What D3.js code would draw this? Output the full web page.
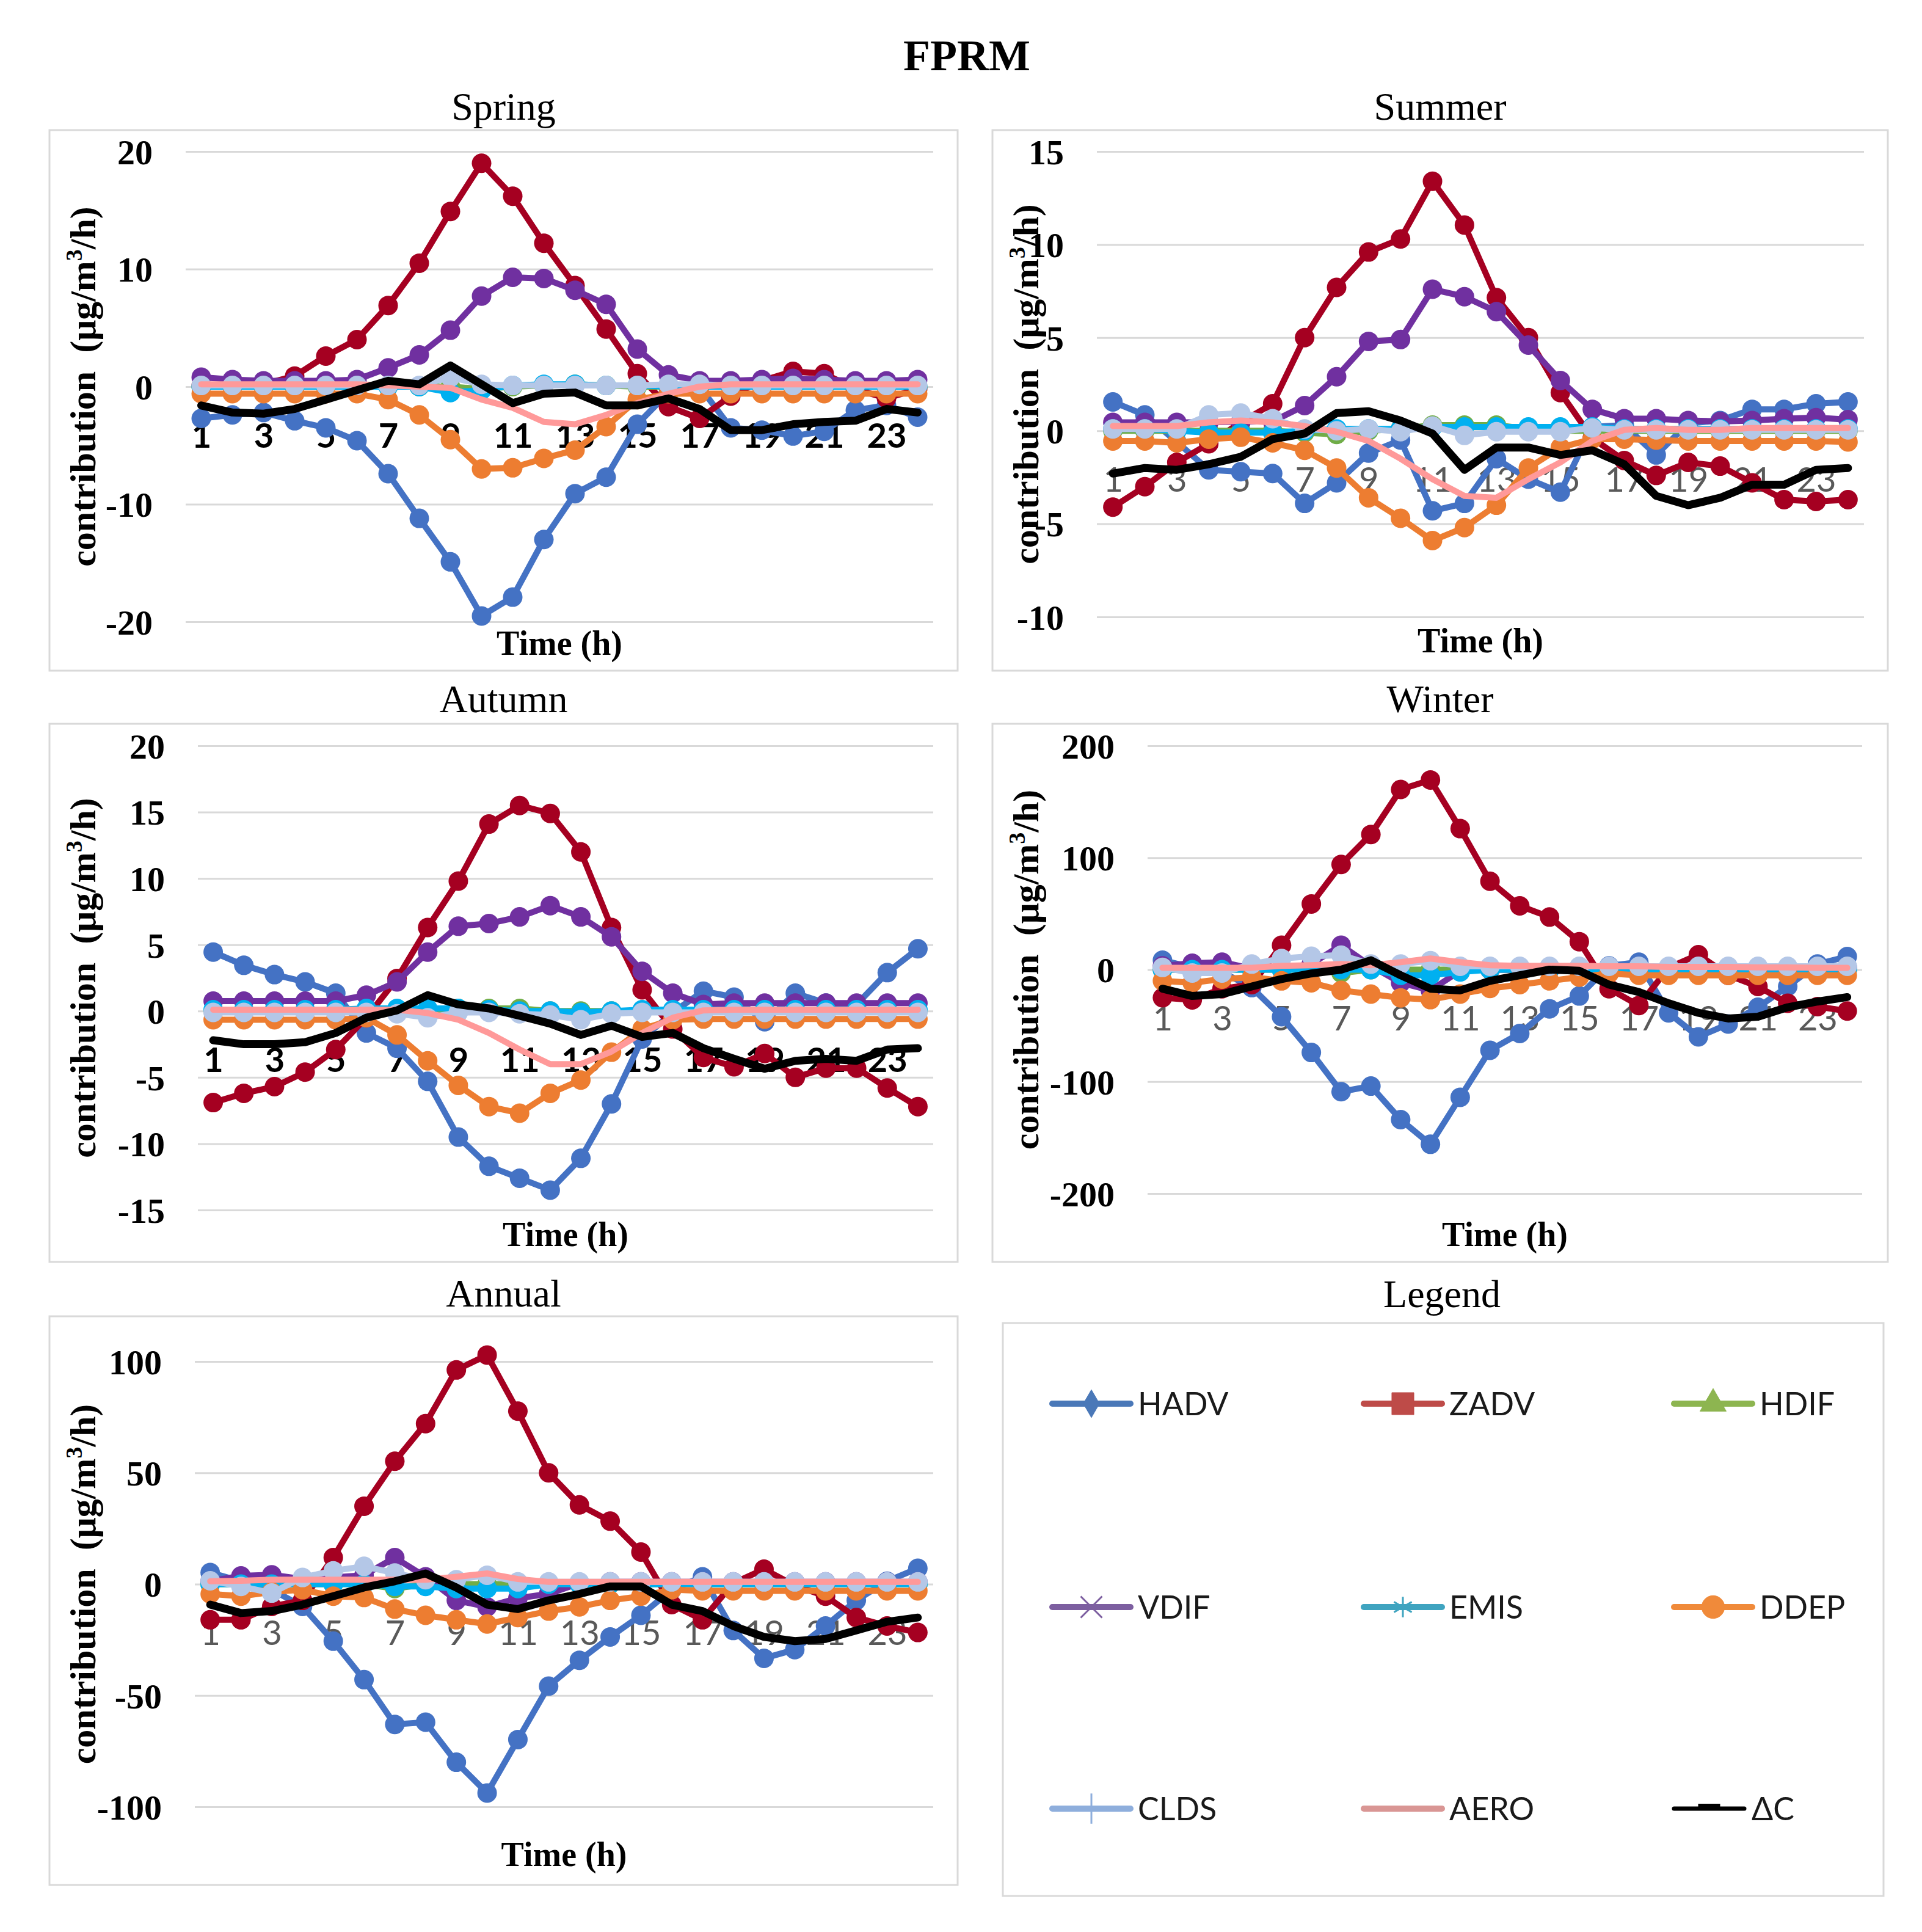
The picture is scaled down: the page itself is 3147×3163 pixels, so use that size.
<!DOCTYPE html>
<html>
<head>
<meta charset="utf-8">
<script src="https://cdn.jsdelivr.net/npm/d3@7"></script>
<style>
  body { margin: 0; background: #fff; }
  svg { display: block; }
</style>
</head>
<body>
<div id="chart"></div>
<script>
// hours on the category axis
const hours = d3.range(1, 25);
const hourLabels = hours.filter((h) => h % 2 === 1);

const seriesNames = ["HADV", "ZADV", "HDIF", "VDIF", "EMIS", "DDEP", "CLDS", "AERO", "ΔC"];

// Spring
const springHADV = [-2.7, -2.4, -2.2, -2.9, -3.5, -4.6, -7.4, -11.2, -14.9, -19.5, -17.9, -13, -9.1, -7.7, -3.2, -0.5, 0, -3.5, -3.7, -4.2, -3.8, -2.0, -1.6, -2.6];
const springZADV = [0.1, 0.1, 0.2, 0.9, 2.6, 4.0, 6.9, 10.5, 14.9, 19.0, 16.2, 12.2, 8.6, 4.9, 1.1, -1.7, -2.7, -0.8, 0.5, 1.3, 1.1, -0.2, -1.0, -0.2];
const springHDIF = [0, 0, 0, 0, 0, 0, 0, 0, 0, -0.2, 0, 0.1, 0.2, 0.1, 0, 0, 0, 0, 0, 0, 0, 0, 0, 0];
const springVDIF = [0.8, 0.6, 0.5, 0.5, 0.5, 0.6, 1.6, 2.7, 4.8, 7.7, 9.3, 9.2, 8.2, 7.0, 3.2, 1.0, 0.5, 0.5, 0.6, 0.7, 0.6, 0.5, 0.5, 0.6];
const springEMIS = [0, 0, 0, 0, 0, 0, 0, 0, -0.5, -0.3, 0.1, 0.2, 0.2, 0.1, 0.1, 0, 0, 0, 0, 0, 0, 0, 0, 0];
const springDDEP = [-0.6, -0.6, -0.6, -0.6, -0.6, -0.6, -1.1, -2.4, -4.5, -7.0, -6.9, -6.1, -5.4, -3.4, -1.1, -0.6, -0.6, -0.6, -0.6, -0.6, -0.6, -0.6, -0.6, -0.6];
const springCLDS = [0.1, 0.1, 0.1, 0.1, 0.1, 0.1, 0.1, 0.1, 0.8, 0.2, 0.1, 0.1, 0.1, 0.1, 0.1, 0.2, 0.2, 0.1, 0.1, 0.1, 0.1, 0.1, 0.1, 0.1];
const springAERO = [0.2, 0.2, 0.2, 0.2, 0.2, 0.2, 0.1, 0, -0.1, -1.1, -1.8, -3.0, -3.2, -2.4, -1.4, -0.6, 0, 0.2, 0.2, 0.2, 0.2, 0.2, 0.2, 0.2];
const springDC = [-1.6, -2.2, -2.3, -1.9, -1.1, -0.3, 0.5, 0.2, 1.8, 0.2, -1.4, -0.6, -0.5, -1.6, -1.6, -1.0, -1.9, -3.7, -3.7, -3.2, -3.0, -2.9, -1.9, -2.2];

// Summer
const summerHADV = [1.55, 0.85, -0.6, -2.1, -2.2, -2.3, -3.9, -2.8, -1.2, -0.5, -4.3, -3.9, -1.5, -2.6, -3.3, 0.2, 0.3, -1.3, 0.4, 0.55, 1.15, 1.15, 1.45, 1.55];
const summerZADV = [-4.1, -3.0, -1.7, -0.7, 0.45, 1.45, 5.0, 7.7, 9.6, 10.3, 13.4, 11.05, 7.15, 5.0, 2.05, -0.4, -1.6, -2.4, -1.7, -1.9, -2.8, -3.7, -3.8, -3.7];
const summerHDIF = [0, 0, 0, 0, 0, 0, -0.1, -0.2, 0, 0.1, 0.3, 0.3, 0.3, 0.1, 0, 0, 0, 0, 0, 0, 0, 0, 0, 0];
const summerVDIF = [0.45, 0.45, 0.45, 0.45, 0.5, 0.5, 1.35, 2.9, 4.8, 4.9, 7.6, 7.2, 6.4, 4.6, 2.7, 1.15, 0.65, 0.65, 0.55, 0.5, 0.55, 0.65, 0.7, 0.6];
const summerEMIS = [0.1, 0.1, 0, -0.1, -0.1, -0.1, 0, 0.1, 0.1, 0.1, 0.2, 0.2, 0.2, 0.2, 0.2, 0.2, 0.1, 0.1, 0.1, 0.1, 0.1, 0.1, 0.1, 0.1];
const summerDDEP = [-0.55, -0.55, -0.65, -0.45, -0.35, -0.65, -1.05, -2.0, -3.6, -4.7, -5.9, -5.2, -4.0, -2.0, -0.9, -0.45, -0.45, -0.5, -0.55, -0.55, -0.55, -0.55, -0.55, -0.6];
const summerCLDS = [0.1, 0.1, 0.1, 0.85, 0.95, 0.65, 0.1, 0, 0.1, -0.05, 0.25, -0.25, -0.05, -0.05, -0.05, 0.15, 0.05, 0.05, 0.05, 0.05, 0.05, 0.05, 0.05, 0.05];
const summerAERO = [0.25, 0.25, 0.25, 0.45, 0.55, 0.45, 0.25, -0.05, -0.55, -1.5, -2.6, -3.5, -3.6, -2.6, -1.7, -0.55, 0.05, 0.15, 0.05, 0.05, 0.15, 0.15, 0.15, 0.15];
const summerDC = [-2.3, -2.0, -2.1, -1.8, -1.4, -0.45, -0.15, 0.95, 1.05, 0.55, -0.15, -2.1, -0.9, -0.9, -1.3, -1.05, -1.8, -3.5, -4.0, -3.6, -2.9, -2.9, -2.1, -2.0];

// Autumn
const autumnHADV = [4.45, 3.45, 2.75, 2.2, 1.35, -1.65, -2.8, -5.3, -9.5, -11.7, -12.6, -13.5, -11.1, -7.0, -2.1, -0.1, 1.5, 1.05, -0.8, 1.35, 0.6, 0.5, 2.9, 4.7];
const autumnZADV = [-6.9, -6.2, -5.7, -4.6, -2.9, -0.5, 2.45, 6.3, 9.8, 14.1, 15.5, 14.9, 12.0, 6.3, 1.6, -1.35, -3.5, -4.2, -3.2, -5.0, -4.3, -4.3, -5.8, -7.2];
const autumnHDIF = [0, 0, 0, 0, 0, 0, 0, 0, 0.2, 0.2, 0.2, 0, 0, 0, 0, 0, 0, 0, 0, 0, 0, 0, 0, 0];
const autumnVDIF = [0.75, 0.75, 0.75, 0.75, 0.75, 1.2, 2.2, 4.45, 6.4, 6.6, 7.1, 7.95, 7.1, 5.6, 3.0, 1.35, 0.5, 0.6, 0.6, 0.6, 0.6, 0.6, 0.6, 0.6];
const autumnEMIS = [0.1, 0.1, 0.1, 0.1, 0.1, 0.2, 0.2, 0.2, 0.2, 0.1, 0, 0, -0.1, 0, 0.1, 0.1, 0.1, 0.1, 0.1, 0.1, 0.1, 0.1, 0.1, 0.1];
const autumnDDEP = [-0.65, -0.65, -0.65, -0.65, -0.65, -0.5, -1.8, -3.75, -5.6, -7.2, -7.7, -6.2, -5.2, -3.1, -1.35, -0.65, -0.6, -0.6, -0.6, -0.6, -0.6, -0.6, -0.6, -0.6];
const autumnCLDS = [-0.1, -0.1, -0.1, -0.1, -0.1, -0.1, -0.2, -0.5, -0.1, -0.1, -0.2, -0.3, -0.65, -0.2, -0.1, -0.1, -0.1, -0.1, -0.1, -0.1, -0.1, -0.1, -0.1, -0.1];
const autumnAERO = [0.1, 0.1, 0.1, 0.1, 0.1, 0.1, 0.1, -0.15, -0.65, -1.65, -2.9, -4.0, -4.0, -3.05, -1.65, -0.5, 0.05, 0.1, 0.1, 0.1, 0.1, 0.1, 0.1, 0.1];
const autumnDC = [-2.2, -2.5, -2.5, -2.35, -1.65, -0.5, 0.05, 1.2, 0.5, 0.2, -0.35, -0.95, -1.8, -1.1, -1.95, -1.65, -2.8, -3.6, -4.35, -3.75, -3.6, -3.75, -2.9, -2.8];

// Winter
const winterHADV = [8.4, 2, -2, -16, -42, -74, -109, -104, -134, -156, -114, -72, -57, -35, -23.5, 3.4, 6.7, -38.6, -60, -48.6, -33.6, -15, 5, 11.7];
const winterZADV = [-25, -27, -17, -13.4, 21.8, 58.7, 94, 120.8, 161, 169.5, 126, 79, 57, 47, 25, -17, -32, 1.7, 13.4, -5, -15, -30, -33, -37];
const winterHDIF = [0, 0, 0, 0, 0, 0, -3, 0, 0, 0, 0, 0, 0, 0, 0, 0, 0, 0, 0, 0, 0, 0, 0, 0];
const winterVDIF = [3.4, 5.7, 6.7, 1, 1, 5, 21.8, 3.4, -11.7, -18.5, -1, 0, 0, 0, 1, 2, 2, 2, 2, 2, 2, 2, 2, 2];
const winterEMIS = [0, 0, 0, 0, 0, 0, 0, 0, -5, -5, -2, 0, 0, 0, 0, 0, 0, 0, 0, 0, 0, 0, 0, 0];
const winterDDEP = [-10, -11.7, -8.4, -6.7, -10, -11.7, -18.5, -21.8, -25.2, -26.8, -21.8, -16.8, -13.4, -10, -6.7, -3.4, -5, -5, -5, -5, -5, -5, -5, -5];
const winterCLDS = [2, -3, -3, 5, 10, 12, 13, 5, 5, 8, 3, 3, 3, 3, 3, 3, 3, 3, 3, 3, 3, 3, 3, 3];
const winterAERO = [1.7, 1.7, 1.7, 1.7, 3.4, 4, 5, 4, 6.7, 10, 6.7, 4, 3.4, 3.4, 3.4, 3, 3, 2.5, 2.5, 2.5, 2, 2, 1.7, 1.7];
const winterDC = [-17, -23.5, -21.8, -15, -8.4, -3.4, 0, 8.4, -5, -17, -18.5, -10, -5, 0, -1, -13.4, -20, -30, -38.6, -43.6, -42, -33.6, -28.5, -24.5];

// Annual
const annualHADV = [5.2, 1.3, -2.5, -10, -25.6, -42.9, -63, -62, -80, -93.8, -69.8, -45.8, -34.2, -23.7, -14, -2.5, 3.3, -20.8, -33.3, -29.4, -18.8, -7.3, 1.3, 7.1];
const annualZADV = [-16, -16, -10, -7.3, 11.9, 35, 55.2, 72.1, 96.2, 102.9, 77.7, 50, 35.6, 28.3, 14.4, -9.2, -16, 0.4, 6.7, -0.6, -5.4, -15, -18.8, -21.7];
const annualHDIF = [0, 0, 0, 0, 0, 0, -2, 0, 0, 0, 0, 0, 0, 0, 0, 0, 0, 0, 0, 0, 0, 0, 0, 0];
const annualVDIF = [1.3, 3.7, 4.2, 2.3, 3, 4, 11.9, 3.3, -7.3, -10.2, -6.3, -4.4, 0.4, 1, 1, 1, 1, 1, 1, 1, 1, 1, 1, 1];
const annualEMIS = [0, 0, 0, 0, 0, 0, -1, -1, -2, -2, -2, 0, 0, 0, 0, 0, 0, 0, 0, 0, 0, 0, 0, 0];
const annualDDEP = [-4.4, -5.4, -3.5, -2.5, -5.4, -6, -11.2, -14, -16, -17.9, -15, -12.1, -10.2, -7.3, -5.4, -2.5, -3, -3, -3, -3, -3, -3, -3, -3];
const annualCLDS = [1.5, -1, -4, 3, 6, 8, 5, 2, 2, 4, 1, 1, 1, 1, 1, 1, 1, 1, 1, 1, 1, 1, 1, 1];
const annualAERO = [1.3, 1.5, 2, 2, 2, 2, 2, 2, 3.3, 4.8, 2.3, 1, 1, 1, 1, 1, 1, 1, 1, 1, 1, 1, 1, 1];
const annualDC = [-9.2, -13, -12.1, -9.2, -5.4, -1.5, 1.3, 4.8, -1.5, -9.2, -11.2, -7.3, -4.4, -1, -1, -9.2, -12.1, -18.8, -23.7, -25.6, -24.6, -20.8, -16.9, -15];

// y ticks per panel
const springTicks = [-20, -10, 0, 10, 20];
const summerTicks = [-10, -5, 0, 5, 10, 15];
const autumnTicks = [-15, -10, -5, 0, 5, 10, 15, 20];
const winterTicks = [-200, -100, 0, 100, 200];
const annualTicks = [-100, -50, 0, 50, 100];

//styles
const lineColors = {
  HADV: "#4472C4", ZADV: "#A50021", HDIF: "#70AD47", VDIF: "#7030A0", EMIS: "#00B0F0",
  DDEP: "#ED7D31", CLDS: "#B4C7E7", AERO: "#FF9999", "ΔC": "#000000",
};
const legendColors = {
  HADV: "#4A78B8", ZADV: "#BE4B48", HDIF: "#8DB550", VDIF: "#7D5FA0", EMIS: "#3FA4C0",
  DDEP: "#F08A3A", CLDS: "#8EAEDC", AERO: "#D99694", "ΔC": "#000000",
};
const noMarker = new Set(["AERO", "ΔC"]);
const SERIF = "'Liberation Serif', 'Times New Roman', serif";
const SANS = "Lato, 'Open Sans', sans-serif";

const panels = [
  { title: "Spring", box: [81, 213, 1568, 1098], plot: [304, 1528, 248, 1018], domain: [-20, 20],
    ticks: springTicks, tickColor: "#000", timeY: 1072, titleY: 196,
    data: [springHADV, springZADV, springHDIF, springVDIF, springEMIS, springDDEP, springCLDS, springAERO, springDC] },
  { title: "Summer", box: [1625, 213, 3091, 1098], plot: [1796, 3052, 248, 1010], domain: [-10, 15],
    ticks: summerTicks, tickColor: "#595959", timeY: 1068, titleY: 196,
    data: [summerHADV, summerZADV, summerHDIF, summerVDIF, summerEMIS, summerDDEP, summerCLDS, summerAERO, summerDC] },
  { title: "Autumn", box: [81, 1185, 1568, 2066], plot: [324, 1528, 1221, 1981], domain: [-15, 20],
    ticks: autumnTicks, tickColor: "#000", timeY: 2040, titleY: 1166,
    data: [autumnHADV, autumnZADV, autumnHDIF, autumnVDIF, autumnEMIS, autumnDDEP, autumnCLDS, autumnAERO, autumnDC] },
  { title: "Winter", box: [1625, 1185, 3091, 2066], plot: [1879, 3049, 1221, 1954], domain: [-200, 200],
    ticks: winterTicks, tickColor: "#595959", timeY: 2040, titleY: 1166,
    data: [winterHADV, winterZADV, winterHDIF, winterVDIF, winterEMIS, winterDDEP, winterCLDS, winterAERO, winterDC] },
  { title: "Annual", box: [81, 2155, 1568, 3086], plot: [319, 1528, 2229, 2958], domain: [-100, 100],
    ticks: annualTicks, tickColor: "#595959", timeY: 3055, titleY: 2139,
    data: [annualHADV, annualZADV, annualHDIF, annualVDIF, annualEMIS, annualDDEP, annualCLDS, annualAERO, annualDC] },
];

const W = 3147, H = 3163;
const svg = d3.select("#chart").append("svg")
  .attr("width", W).attr("height", H)
  .attr("viewBox", `0 0 ${W} ${H}`);
svg.append("rect").attr("width", W).attr("height", H).attr("fill", "#fff");

svg.append("text")
  .attr("x", 1583).attr("y", 115)
  .attr("text-anchor", "middle")
  .attr("font-family", SERIF).attr("font-weight", "bold").attr("font-size", 72)
  .text("FPRM");

panels.forEach(drawPanel);
drawLegend();

function drawPanel(p) {
  const [bx0, by0, bx1, by1] = p.box;
  const [px0, px1, pyTop, pyBot] = p.plot;
  const g = svg.append("g");

  g.append("text")
    .attr("x", (bx0 + bx1) / 2).attr("y", p.titleY)
    .attr("text-anchor", "middle")
    .attr("font-family", SERIF).attr("font-size", 64)
    .text(p.title);

  g.append("rect")
    .attr("x", bx0).attr("y", by0)
    .attr("width", bx1 - bx0).attr("height", by1 - by0)
    .attr("fill", "#fff").attr("stroke", "#D9D9D9").attr("stroke-width", 3);

  const x = d3.scalePoint().domain(hours).range([px0, px1]).padding(0.5);
  const y = d3.scaleLinear().domain(p.domain).range([pyBot, pyTop]);

  // gridlines + y labels (plain hyphen minus like the source)
  const yAxis = g.append("g")
    .attr("transform", `translate(${px0},0)`)
    .call(d3.axisLeft(y).tickValues(p.ticks).tickSize(-(px1 - px0)).tickPadding(54).tickFormat((d) => String(d)));
  yAxis.select(".domain").remove();
  yAxis.selectAll(".tick line").attr("stroke", "#D9D9D9").attr("stroke-width", 3);
  yAxis.selectAll(".tick text")
    .attr("font-family", SERIF).attr("font-weight", "bold").attr("font-size", 58)
    .attr("fill", "#000").attr("dy", "0.35em")
    .attr("x", -54);

  // hour labels sit below the zero line
  const xAxis = g.append("g")
    .attr("transform", `translate(0,${y(0)})`)
    .call(d3.axisBottom(x).tickValues(hourLabels).tickSize(0).tickPadding(60));
  xAxis.select(".domain").remove();
  xAxis.selectAll(".tick text")
    .attr("font-family", SANS).attr("font-size", 56)
    .attr("font-weight", p.tickColor === "#000" ? 700 : 400)
    .attr("fill", p.tickColor);

  // lines
  const line = d3.line().x((d, i) => x(hours[i])).y((d) => y(d));
  seriesNames.forEach((name, si) => {
    const vals = p.data[si];
    const col = lineColors[name];
    g.append("path")
      .datum(vals)
      .attr("d", line)
      .attr("fill", "none")
      .attr("stroke", col)
      .attr("stroke-width", name === "ΔC" ? 13 : 10)
      .attr("stroke-linejoin", "round")
      .attr("stroke-linecap", "round");
    if (!noMarker.has(name)) {
      g.append("g").selectAll("circle")
        .data(vals)
        .join("circle")
        .attr("cx", (d, i) => x(hours[i]))
        .attr("cy", (d) => y(d))
        .attr("r", 16)
        .attr("fill", col);
    }
  });

  g.append("text")
    .attr("x", (px0 + px1) / 2).attr("y", p.timeY)
    .attr("text-anchor", "middle")
    .attr("font-family", SERIF).attr("font-weight", "bold").attr("font-size", 56)
    .text("Time (h)");

  const yt = g.append("text")
    .attr("transform", `translate(${bx0 + 75},${(pyTop + pyBot) / 2}) rotate(-90)`)
    .attr("text-anchor", "middle")
    .attr("font-family", SERIF).attr("font-weight", "bold").attr("font-size", 60)
    .attr("xml:space", "preserve");
  yt.append("tspan").text("contribution  (μg/m");
  yt.append("tspan").attr("font-size", 38).attr("dy", -22).text("3");
  yt.append("tspan").attr("dy", 22).text("/h)");
}

function drawLegend() {
  const g = svg.append("g");
  g.append("text")
    .attr("x", 2361).attr("y", 2140)
    .attr("text-anchor", "middle")
    .attr("font-family", SERIF).attr("font-size", 64)
    .text("Legend");
  g.append("rect")
    .attr("x", 1642).attr("y", 2166).attr("width", 1442).attr("height", 938)
    .attr("fill", "#fff").attr("stroke", "#D9D9D9").attr("stroke-width", 3);

  const colX = [1723, 2233, 2741];
  const rowY = [2298, 2631, 2961];
  const symbols = {
    HADV: { type: d3.symbolDiamond, size: 600, fill: true },
    ZADV: { type: d3.symbolSquare, size: 1300, fill: true },
    HDIF: { type: d3.symbolTriangle, size: 800, fill: true },
    VDIF: { type: d3.symbolTimes, size: 800, fill: false },
    EMIS: { type: d3.symbolAsterisk, size: 800, fill: false },
    DDEP: { type: d3.symbolCircle, size: 1100, fill: true },
    CLDS: { type: d3.symbolPlus, size: 800, fill: false },
  };

  seriesNames.forEach((name, i) => {
    const lx = colX[i % 3];
    const ly = rowY[Math.floor(i / 3)];
    const len = name === "ΔC" ? 115 : 128;
    const col = legendColors[name];
    const item = g.append("g");
    item.append("line")
      .attr("x1", lx).attr("x2", lx + len)
      .attr("y1", ly).attr("y2", ly)
      .attr("stroke", col).attr("stroke-width", name === "ΔC" ? 7 : 10)
      .attr("stroke-linecap", "round");
    const s = symbols[name];
    if (s) {
      item.append("path")
        .attr("transform", `translate(${lx + len / 2},${ly})`)
        .attr("d", d3.symbol(s.type, s.size)())
        .attr("fill", s.fill ? col : "none")
        .attr("stroke", col)
        .attr("stroke-width", s.fill ? 1 : 3);
    }
    if (name === "ΔC") {
      item.append("rect")
        .attr("x", lx + len / 2 - 18).attr("y", ly - 8)
        .attr("width", 36).attr("height", 6)
        .attr("fill", col);
    }
    item.append("text")
      .attr("x", lx + len + 12).attr("y", ly)
      .attr("dy", "0.36em")
      .attr("font-family", SANS).attr("font-size", 52)
      .attr("fill", "#1a1a1a")
      .text(name);
  });
}
</script>
</body>
</html>
